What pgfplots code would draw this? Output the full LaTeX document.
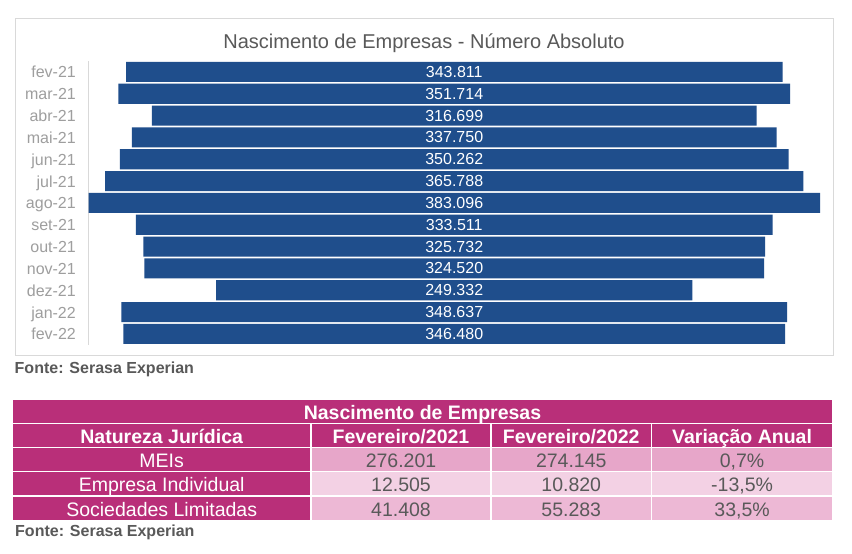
\documentclass[border=0pt]{standalone}
\usepackage{pgfplots}
\pgfplotsset{compat=1.18}
\usepackage{pgfplotstable}
\usepackage{fontspec}
\setmainfont{Liberation Sans}
\definecolor{barblue}{HTML}{1F4E8C}
\definecolor{txtgray}{HTML}{595959}
\definecolor{catgray}{HTML}{9E9E9E}
\definecolor{framegray}{HTML}{D9D9D9}
\definecolor{mag}{HTML}{B92F79}
\definecolor{pinkA}{HTML}{E7A6C9}
\definecolor{pinkB}{HTML}{F3D1E4}
\definecolor{pinkC}{HTML}{EDB8D5}

\pgfplotstableread{
idx v lab
0 343811 343.811
1 351714 351.714
2 316699 316.699
3 337750 337.750
4 350262 350.262
5 365788 365.788
6 383096 383.096
7 333511 333.511
8 325732 325.732
9 324520 324.520
10 249332 249.332
11 348637 348.637
12 346480 346.480
}\births

\newcommand\tabfont{\fontsize{19.5bp}{23bp}\selectfont}
% cell: left, top, right, bottom, fill, text, text style
\newcommand\cell[7]{%
  \fill[#5] (#1,-#2) rectangle (#3,-#4);
  \node[anchor=base, inner sep=0pt, #7] at ({(#1+#3)/2},{-(#4-3.6)}) {#6};}

\pgfplotsset{chartframe/.style={at={(88.5bp,-61bp)}, anchor=north west, scale only axis,
  width=731.5bp, height=283.8bp,
  xmin=0, xmax=383096, ymin=-0.5, ymax=12.5, y dir=reverse,
  enlargelimits=false, clip=false}}

\begin{document}
\begin{tikzpicture}[x=1bp,y=1bp]
\fill[white] (0,0) rectangle (852,-554);
\useasboundingbox (0,0) rectangle (852,-554);
\draw[framegray, line width=1bp] (15.5,-19) rectangle (833,-355);
\node[anchor=base, inner sep=0pt, text=txtgray, font=\fontsize{20bp}{24bp}\selectfont] at (424,-48.3) {Nascimento de Empresas - Número Absoluto};
\begin{axis}[chartframe, xbar stacked, bar width=0.92,
  axis x line=none, axis y line*=left,
  y axis line style={framegray, line width=1bp},
  ytick={0,...,12},
  yticklabels={fev-21,mar-21,abr-21,mai-21,jun-21,jul-21,ago-21,set-21,out-21,nov-21,dez-21,jan-22,fev-22},
  major tick length=0pt,
  yticklabel style={font=\fontsize{16bp}{19bp}\selectfont, text=catgray, inner sep=0pt, anchor=base east, xshift=-12.5bp, yshift=-6bp}]
\addplot[fill=none, draw=none] table[x expr=(383096-\thisrow{v})/2, y=idx] {\births};
\addplot[fill=barblue, draw=none] table[x=v, y=idx] {\births};
\end{axis}
\begin{axis}[chartframe, hide axis]
\addplot[only marks, mark=*, mark size=0pt, mark options={draw=none, fill=none},
  nodes near coords, point meta=explicit symbolic,
  nodes near coords style={text=white, font=\fontsize{16bp}{19bp}\selectfont, anchor=center, inner sep=0pt}]
  table[x expr=191548, y=idx, meta=lab] {\births};
\end{axis}
\node[anchor=base west, inner sep=0pt, text=txtgray, font=\bfseries\fontsize{16bp}{19bp}\selectfont] at (14.5,-373.3) {Fonte: Serasa Experian};

% table
\cell{13}{400}{832}{422.8}{mag}{Nascimento de Empresas}{text=white, font=\bfseries\tabfont}
\cell{13}{424}{310.4}{446.8}{mag}{Natureza Jurídica}{text=white, font=\bfseries\tabfont}
\cell{311.6}{424}{490.4}{446.8}{mag}{Fevereiro/2021}{text=white, font=\bfseries\tabfont}
\cell{491.6}{424}{650.9}{446.8}{mag}{Fevereiro/2022}{text=white, font=\bfseries\tabfont}
\cell{652.1}{424}{832}{446.8}{mag}{Variação Anual}{text=white, font=\bfseries\tabfont}

\cell{13}{448}{310.4}{471.2}{mag}{MEIs}{text=white, font=\tabfont}
\cell{311.6}{448}{490.4}{471.2}{pinkA}{276.201}{text=txtgray, font=\tabfont}
\cell{491.6}{448}{650.9}{471.2}{pinkA}{274.145}{text=txtgray, font=\tabfont}
\cell{652.1}{448}{832}{471.2}{pinkA}{0,7\%}{text=txtgray, font=\tabfont}

\cell{13}{472.4}{310.4}{495.4}{mag}{Empresa Individual}{text=white, font=\tabfont}
\cell{311.6}{472.4}{490.4}{495.4}{pinkB}{12.505}{text=txtgray, font=\tabfont}
\cell{491.6}{472.4}{650.9}{495.4}{pinkB}{10.820}{text=txtgray, font=\tabfont}
\cell{652.1}{472.4}{832}{495.4}{pinkB}{-13,5\%}{text=txtgray, font=\tabfont}

\cell{13}{496.6}{310.4}{520}{mag}{Sociedades Limitadas}{text=white, font=\tabfont}
\cell{311.6}{496.6}{490.4}{520}{pinkC}{41.408}{text=txtgray, font=\tabfont}
\cell{491.6}{496.6}{650.9}{520}{pinkC}{55.283}{text=txtgray, font=\tabfont}
\cell{652.1}{496.6}{832}{520}{pinkC}{33,5\%}{text=txtgray, font=\tabfont}

\node[anchor=base west, inner sep=0pt, text=txtgray, font=\bfseries\fontsize{16bp}{19bp}\selectfont] at (15,-536.7) {Fonte: Serasa Experian};
\end{tikzpicture}
\end{document}
